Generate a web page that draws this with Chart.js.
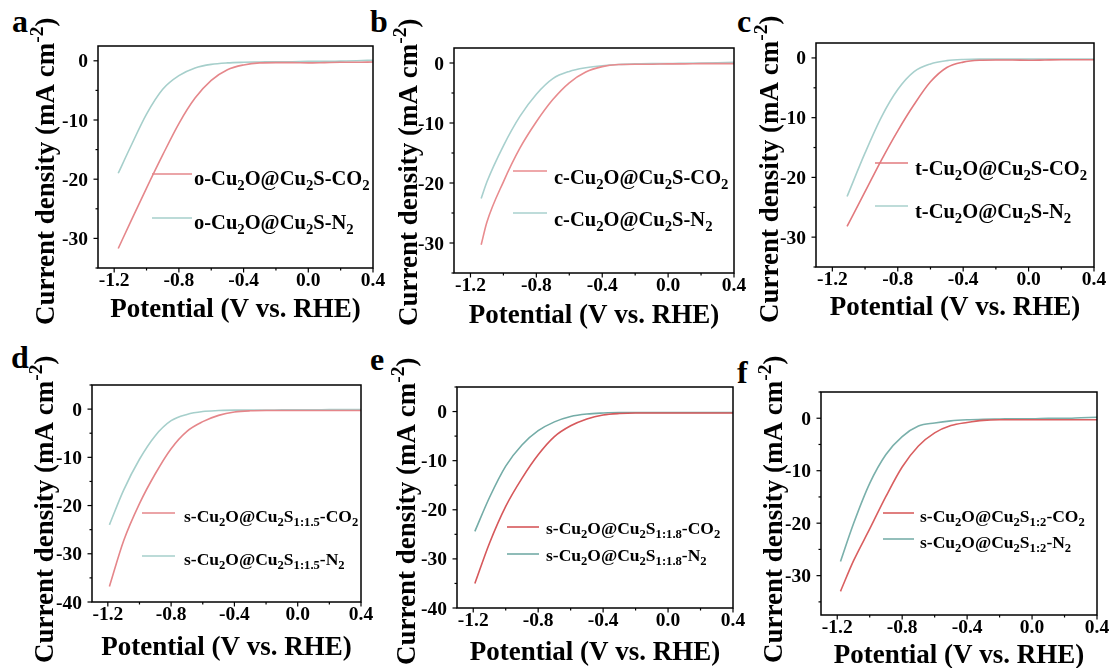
<!DOCTYPE html>
<html>
<head>
<meta charset="utf-8">
<script src="https://cdn.jsdelivr.net/npm/chart.js@4.4.1/dist/chart.umd.min.js"></script>
<style>
  html, body { margin: 0; padding: 0; background: #fff; width: 1110px; height: 668px; overflow: hidden; position: relative; }
  canvas { position: absolute; }
  .lbl { position: absolute; font: bold 32px "Liberation Serif", "Times New Roman", serif; line-height: 32px; color: #000; }
</style>
</head>
<body>
<div class="lbl" style="left:12px;top:5px">a</div>
<div class="lbl" style="left:370px;top:5px">b</div>
<div class="lbl" style="left:737px;top:5px">c</div>
<div class="lbl" style="left:11px;top:341px">d</div>
<div class="lbl" style="left:370px;top:343px">e</div>
<div class="lbl" style="left:737px;top:356px">f</div>

<script>
// LSV curves, potential in V vs. RHE, current density in mA cm^-2
const potA = [-1.175, -1.1, -1.0, -0.9, -0.8, -0.7, -0.6, -0.5, -0.4, -0.3, -0.2, -0.1, 0.0, 0.1, 0.2, 0.3, 0.4];
const co2A = [-31.7, -27.3, -21.5, -15.9, -10.6, -6.3, -3.3, -1.5, -0.7, -0.35, -0.3, -0.3, -0.35, -0.3, -0.25, -0.25, -0.2];
const n2A  = [-19.0, -14.6, -9.0, -4.8, -2.5, -1.2, -0.6, -0.35, -0.25, -0.2, -0.15, -0.15, -0.1, -0.1, -0.05, 0.0, 0.1];

const potB = [-1.135, -1.1, -1.0, -0.9, -0.8, -0.7, -0.6, -0.5, -0.4, -0.3, -0.2, -0.1, 0.0, 0.1, 0.2, 0.3, 0.4];
const co2B = [-30.3, -26.5, -19.8, -14.2, -9.8, -6.1, -3.3, -1.5, -0.6, -0.25, -0.2, -0.2, -0.15, -0.15, -0.1, -0.1, -0.1];
const n2B  = [-22.6, -19.8, -13.8, -8.9, -5.2, -2.6, -1.4, -0.8, -0.45, -0.25, -0.15, -0.1, -0.1, -0.05, 0.0, 0.05, 0.1];

const potC = [-1.11, -1.0, -0.9, -0.8, -0.7, -0.6, -0.5, -0.4, -0.3, -0.2, -0.1, 0.0, 0.1, 0.2, 0.3, 0.4];
const co2C = [-28.2, -22.4, -17.1, -12.2, -7.8, -4.0, -1.6, -0.7, -0.4, -0.35, -0.35, -0.4, -0.35, -0.3, -0.3, -0.3];
const n2C  = [-23.2, -15.9, -9.9, -5.3, -2.3, -1.0, -0.45, -0.25, -0.2, -0.2, -0.2, -0.2, -0.2, -0.2, -0.2, -0.2];

const potD = [-1.19, -1.1, -1.0, -0.9, -0.8, -0.7, -0.6, -0.5, -0.4, -0.3, -0.2, -0.1, 0.0, 0.1, 0.2, 0.3, 0.4];
const co2D = [-36.8, -27.3, -19.6, -13.4, -8.2, -4.6, -2.6, -1.3, -0.6, -0.35, -0.3, -0.3, -0.3, -0.3, -0.3, -0.3, -0.3];
const n2D  = [-24.0, -16.8, -10.4, -5.5, -2.4, -1.1, -0.5, -0.3, -0.2, -0.2, -0.2, -0.15, -0.15, -0.15, -0.1, -0.1, -0.1];

const potE = [-1.19, -1.1, -1.0, -0.9, -0.8, -0.7, -0.6, -0.5, -0.4, -0.3, -0.2, -0.1, 0.0, 0.1, 0.2, 0.3, 0.4];
const co2E = [-35.0, -26.8, -19.3, -13.6, -8.8, -5.1, -2.9, -1.5, -0.7, -0.4, -0.3, -0.3, -0.3, -0.3, -0.3, -0.3, -0.3];
const n2E  = [-24.4, -17.5, -11.1, -6.8, -3.9, -2.1, -1.0, -0.5, -0.3, -0.2, -0.2, -0.2, -0.2, -0.2, -0.2, -0.2, -0.2];

const potF = [-1.18, -1.1, -1.0, -0.9, -0.8, -0.7, -0.6, -0.5, -0.4, -0.3, -0.2, -0.1, 0.0, 0.1, 0.2, 0.3, 0.4];
const co2F = [-33.0, -27.2, -21.1, -14.9, -9.3, -5.3, -2.8, -1.4, -0.8, -0.4, -0.3, -0.3, -0.3, -0.3, -0.3, -0.3, -0.3];
const n2F  = [-27.3, -20.1, -12.4, -6.9, -3.5, -1.5, -0.9, -0.5, -0.3, -0.2, -0.15, -0.1, -0.1, 0.0, 0.0, 0.1, 0.2];

// series names, _{..} = subscript, ^{..} = superscript
const namesA = ['o-Cu_{2}O@Cu_{2}S-CO_{2}', 'o-Cu_{2}O@Cu_{2}S-N_{2}'];
const namesB = ['c-Cu_{2}O@Cu_{2}S-CO_{2}', 'c-Cu_{2}O@Cu_{2}S-N_{2}'];
const namesC = ['t-Cu_{2}O@Cu_{2}S-CO_{2}', 't-Cu_{2}O@Cu_{2}S-N_{2}'];
const namesD = ['s-Cu_{2}O@Cu_{2}S_{1:1.5}-CO_{2}', 's-Cu_{2}O@Cu_{2}S_{1:1.5}-N_{2}'];
const namesE = ['s-Cu_{2}O@Cu_{2}S_{1:1.8}-CO_{2}', 's-Cu_{2}O@Cu_{2}S_{1:1.8}-N_{2}'];
const namesF = ['s-Cu_{2}O@Cu_{2}S_{1:2}-CO_{2}', 's-Cu_{2}O@Cu_{2}S_{1:2}-N_{2}'];

const xTitle = 'Potential (V vs. RHE)';
const yTitle = 'Current density (mA cm^{-2})';
const xMin = -1.3, xMax = 0.4;

const FONT = '"Liberation Serif", "Times New Roman", serif';
const PADL = 100, PADT = 50, PADR = 25, XH = 70;

// box = plot area [left, top, right, bottom] on the page
const panels = [
  { box: [98, 46, 373, 268], yMin: -35, yMax: 2.5, pot: potA, co2: co2A, n2: n2A, names: namesA,
    colors: ['#e5878b', '#a6cfcb'], lg: { x: 54, y: 128, len: 40, tx: 42, dy: 44, font: 20.5, base: 11 },
    yt: { x: 54, y: 325 }, xtBase: 317 },
  { box: [454, 48, 734, 273], yMin: -35, yMax: 2.5, pot: potB, co2: co2B, n2: n2B, names: namesB,
    colors: ['#e88b8e', '#a8d0ce'], lg: { x: 59, y: 123, len: 34, tx: 41, dy: 42, font: 20.5, base: 13 },
    yt: { x: 417, y: 326 }, xtBase: 323 },
  { box: [816, 43, 1094, 267], yMin: -35, yMax: 2.5, pot: potC, co2: co2C, n2: n2C, names: namesC,
    colors: ['#e27a7e', '#a8d0cd'], lg: { x: 59, y: 120, len: 33, tx: 40, dy: 43, font: 20.5, base: 12 },
    yt: { x: 778, y: 323 }, xtBase: 315 },
  { box: [92, 385, 361, 602], yMin: -40, yMax: 5, pot: potD, co2: co2D, n2: n2D, names: namesD,
    colors: ['#e5868a', '#a6cfcb'], lg: { x: 50, y: 128, len: 33, tx: 42, dy: 43, font: 17.5, base: 9 },
    yt: { x: 53, y: 663 }, xtBase: 655 },
  { box: [457, 387, 733, 608], yMin: -40, yMax: 5, pot: potE, co2: co2E, n2: n2E, names: namesE,
    colors: ['#d6585b', '#74aca7'], lg: { x: 50, y: 140, len: 32, tx: 39, dy: 27, font: 17.5, base: 7 },
    yt: { x: 415, y: 665 }, xtBase: 660 },
  { box: [821, 392, 1097, 615], yMin: -37.5, yMax: 5, pot: potF, co2: co2F, n2: n2F, names: namesF,
    colors: ['#d95f60', '#7ab0ab'], lg: { x: 62, y: 121, len: 31, tx: 37, dy: 26, font: 17.5, base: 9 },
    yt: { x: 782, y: 663 }, xtBase: 663 }
];

function isMult(v, step) {
  const r = v / step;
  return Math.abs(r - Math.round(r)) < 1e-6;
}

function parseRich(s) {
  const segs = [];
  const re = /([_^])\{([^}]*)\}/g;
  let last = 0, m;
  while ((m = re.exec(s))) {
    if (m.index > last) segs.push({ t: s.slice(last, m.index), k: 0 });
    segs.push({ t: m[2], k: m[1] === '_' ? -1 : 1 });
    last = re.lastIndex;
  }
  if (last < s.length) segs.push({ t: s.slice(last), k: 0 });
  return segs;
}

function drawRich(ctx, s, x, y, size) {
  ctx.textAlign = 'left';
  ctx.textBaseline = 'alphabetic';
  for (const seg of parseRich(s)) {
    const fs = seg.k ? size * 0.72 : size;
    ctx.font = 'bold ' + fs + 'px ' + FONT;
    const dy = seg.k < 0 ? size * 0.22 : (seg.k > 0 ? -size * 0.4 : 0);
    ctx.fillText(seg.t, x, y + dy);
    x += ctx.measureText(seg.t).width;
  }
}

function makeDecor(p, offX, offY) {
  return {
    id: 'decor',
    afterDraw(chart) {
      const ctx = chart.ctx, a = chart.chartArea;
      const xs = chart.scales.x, ys = chart.scales.y;
      ctx.save();
      ctx.strokeStyle = '#000';
      ctx.fillStyle = '#000';
      ctx.lineWidth = 1.5;
      ctx.strokeRect(a.left, a.top, a.right - a.left, a.bottom - a.top);

      // outward ticks, long at labelled values, labels from the scale ticks
      ctx.lineWidth = 1.2;
      ctx.font = 'bold 19.5px ' + FONT;
      ctx.textBaseline = 'alphabetic';
      ctx.textAlign = 'center';
      xs.ticks.forEach(t => {
        const px = xs.getPixelForValue(t.value);
        const major = isMult(t.value, 0.4);
        ctx.beginPath(); ctx.moveTo(px, a.bottom); ctx.lineTo(px, a.bottom + (major ? 4.5 : 2.5)); ctx.stroke();
        if (major) ctx.fillText(t.value.toFixed(1), px, a.bottom + 17.5);
      });
      ctx.textAlign = 'right';
      ys.ticks.forEach(t => {
        const py = ys.getPixelForValue(t.value);
        const major = isMult(t.value, 10);
        ctx.beginPath(); ctx.moveTo(a.left, py); ctx.lineTo(a.left - (major ? 4.5 : 2.5), py); ctx.stroke();
        if (major) ctx.fillText(String(t.value), a.left - 10, py + 6.5);
      });

      // x title
      ctx.font = 'bold 27px ' + FONT;
      ctx.textAlign = 'center';
      ctx.fillText(xTitle, (a.left + a.right) / 2, p.xtBase - offY);

      // y title, rotated
      ctx.save();
      ctx.translate(p.yt.x - offX, p.yt.y - offY);
      ctx.rotate(-Math.PI / 2);
      drawRich(ctx, yTitle, 0, 0, 27);
      ctx.restore();

      // legend
      const lg = p.lg;
      chart.data.datasets.forEach((ds, i) => {
        const ly = a.top + lg.y + i * lg.dy;
        const lx = a.left + lg.x;
        ctx.strokeStyle = ds.borderColor;
        ctx.lineWidth = 1.6;
        ctx.beginPath(); ctx.moveTo(lx, ly); ctx.lineTo(lx + lg.len, ly); ctx.stroke();
        drawRich(ctx, ds.label, lx + lg.tx, ly + lg.base, lg.font);
      });
      ctx.restore();
    }
  };
}

panels.forEach(p => {
  const [l, t, r, b] = p.box;
  const left = l - PADL, top = t - PADT;
  const w = r - l + PADL + PADR, h = b - t + PADT + XH;
  const cv = document.createElement('canvas');
  cv.width = w; cv.height = h;
  cv.style.left = left + 'px'; cv.style.top = top + 'px';
  cv.style.width = w + 'px'; cv.style.height = h + 'px';
  document.body.appendChild(cv);

  new Chart(cv.getContext('2d'), {
    type: 'line',
    data: {
      datasets: [
        { label: p.names[0], data: p.pot.map((v, i) => ({ x: v, y: p.co2[i] })), borderColor: p.colors[0],
          borderWidth: 1.6, pointRadius: 0, cubicInterpolationMode: 'monotone', fill: false },
        { label: p.names[1], data: p.pot.map((v, i) => ({ x: v, y: p.n2[i] })), borderColor: p.colors[1],
          borderWidth: 1.6, pointRadius: 0, cubicInterpolationMode: 'monotone', fill: false }
      ]
    },
    options: {
      responsive: false,
      animation: false,
      devicePixelRatio: 1,
      layout: { padding: { left: 0, top: PADT, right: PADR, bottom: 0 } },
      plugins: { legend: { display: false }, tooltip: { enabled: false } },
      scales: {
        x: {
          type: 'linear', min: xMin, max: xMax,
          afterFit: s => { s.height = XH; },
          grid: { display: false, drawTicks: false }, border: { display: false },
          ticks: { display: false, stepSize: 0.2, includeBounds: false, autoSkip: false }
        },
        y: {
          type: 'linear', min: p.yMin, max: p.yMax,
          afterFit: s => { s.width = PADL; },
          grid: { display: false, drawTicks: false }, border: { display: false },
          ticks: { display: false, stepSize: 5, includeBounds: false, autoSkip: false }
        }
      }
    },
    plugins: [makeDecor(p, left, top)]
  });
});
</script>
</body>
</html>
